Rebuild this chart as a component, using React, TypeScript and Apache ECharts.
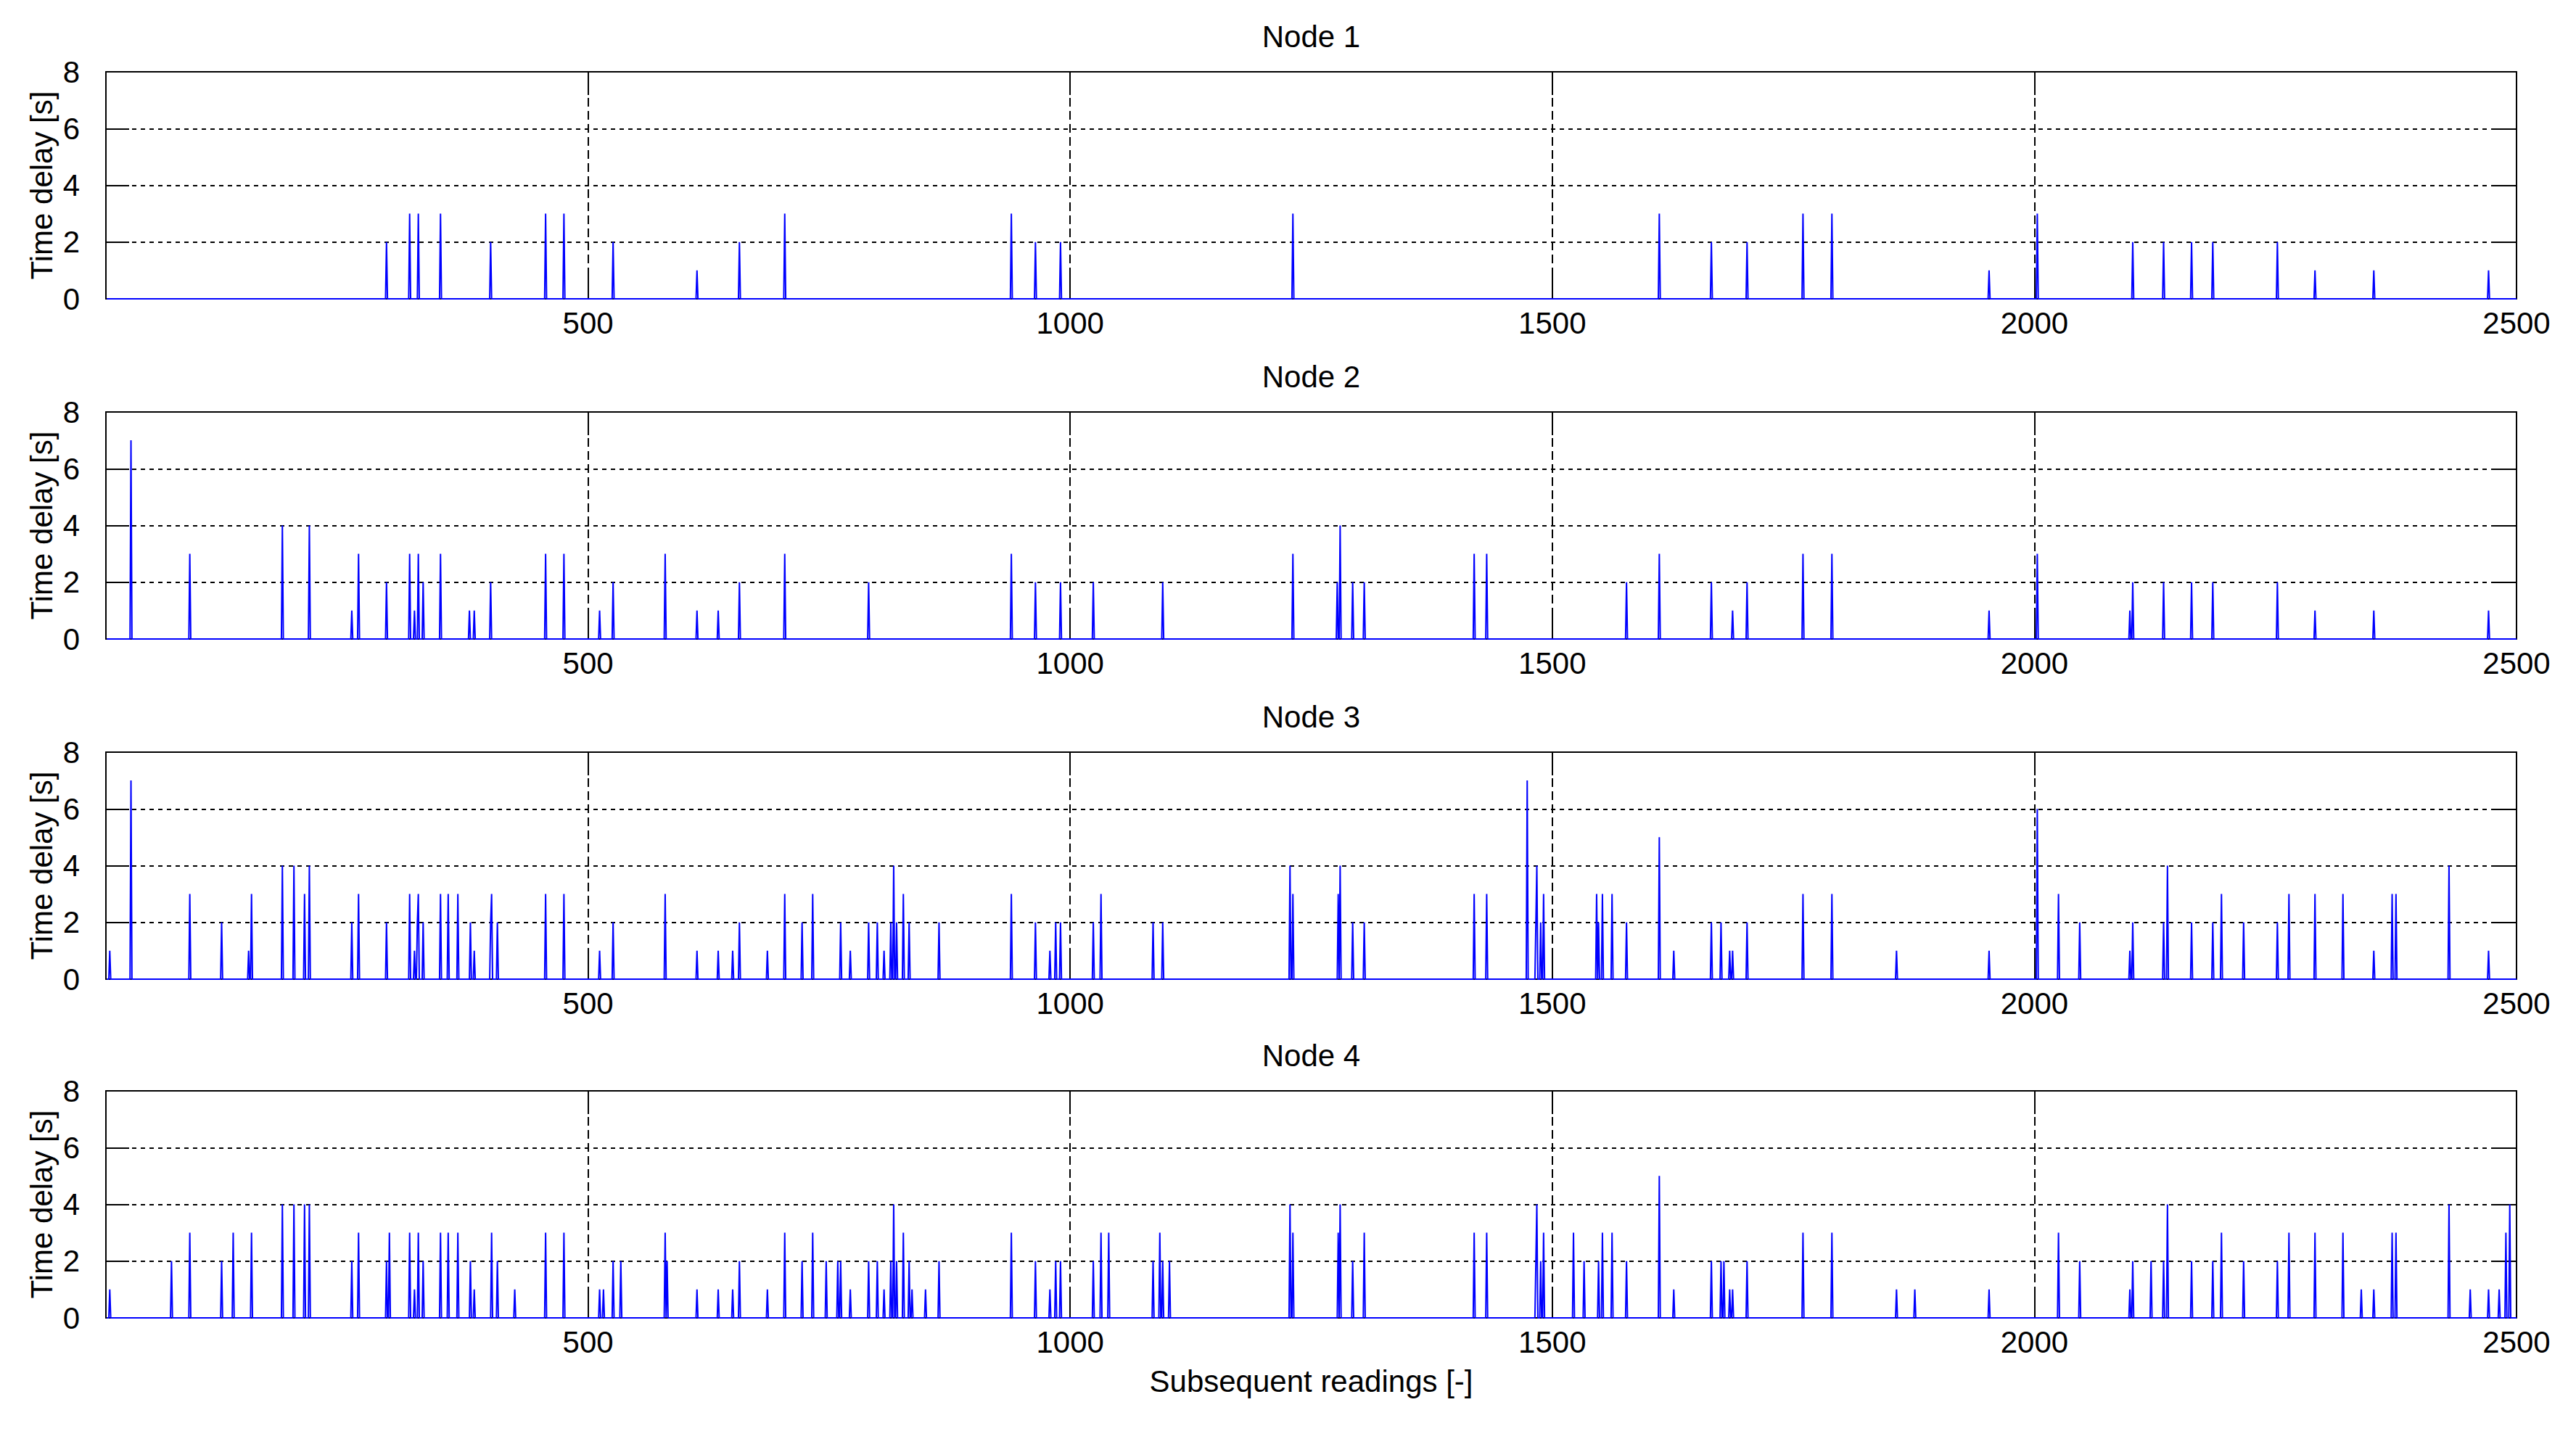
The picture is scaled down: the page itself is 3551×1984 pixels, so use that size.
import React, { useEffect, useRef } from "react";
import * as echarts from "echarts";

// Panel titles
const panelTitles = ["Node 1", "Node 2", "Node 3", "Node 4"];
const yAxisTitle = "Time delay [s]";
const xAxisTitle = "Subsequent readings [-]";
const readingsCount = 2500;

// Spikes: [reading index, time delay in s]; all other readings are 0
const node1Spikes: [number, number][] = [
  [291, 2], [315, 3], [324, 3], [347, 3], [399, 2], [456, 3], [475, 3], [526, 2], [613, 1], [657, 2],
  [704, 3], [939, 3], [964, 2], [990, 2], [1231, 3], [1611, 3], [1665, 2], [1702, 2], [1760, 3], [1790, 3],
  [1953, 1], [2003, 3], [2102, 2], [2134, 2], [2163, 2], [2185, 2], [2252, 2], [2291, 1], [2352, 1], [2471, 1],
];

const node2Spikes: [number, number][] = [
  [26, 7], [87, 3], [183, 4], [211, 4], [255, 1], [262, 3], [291, 2], [315, 3], [320, 1], [324, 3],
  [329, 2], [347, 3], [377, 1], [382, 1], [399, 2], [456, 3], [475, 3], [512, 1], [526, 2], [580, 3],
  [613, 1], [635, 1], [657, 2], [704, 3], [791, 2], [939, 3], [964, 2], [990, 2], [1024, 2], [1096, 2],
  [1231, 3], [1277, 2], [1280, 4], [1293, 2], [1305, 2], [1419, 3], [1432, 3], [1577, 2], [1611, 3], [1665, 2],
  [1687, 1], [1702, 2], [1760, 3], [1790, 3], [1953, 1], [2003, 3], [2099, 1], [2102, 2], [2134, 2], [2163, 2],
  [2185, 2], [2252, 2], [2291, 1], [2352, 1], [2471, 1],
];

const node3Spikes: [number, number][] = [
  [4, 1], [26, 7], [87, 3], [120, 2], [148, 1], [151, 3], [183, 4], [195, 4], [206, 3], [211, 4],
  [255, 2], [262, 3], [291, 2], [315, 3], [320, 1], [323, 2], [324, 3], [329, 2], [347, 3], [355, 3],
  [365, 3], [378, 2], [382, 1], [399, 2], [400, 3], [406, 2], [456, 3], [475, 3], [512, 1], [526, 2],
  [580, 3], [613, 1], [635, 1], [650, 1], [657, 2], [686, 1], [704, 3], [722, 2], [733, 3], [762, 2],
  [772, 1], [791, 2], [800, 2], [807, 1], [814, 2], [817, 4], [820, 2], [827, 3], [833, 2], [864, 2],
  [939, 3], [964, 2], [979, 1], [985, 2], [990, 2], [1024, 2], [1032, 3], [1086, 2], [1096, 2], [1228, 4],
  [1231, 3], [1278, 3], [1280, 4], [1293, 2], [1305, 2], [1419, 3], [1432, 3], [1474, 7], [1483, 2], [1484, 4],
  [1488, 2], [1491, 3], [1546, 3], [1548, 2], [1552, 3], [1562, 3], [1577, 2], [1611, 5], [1626, 1], [1665, 2],
  [1675, 2], [1684, 1], [1687, 1], [1702, 2], [1760, 3], [1790, 3], [1857, 1], [1953, 1], [2003, 6], [2025, 3],
  [2047, 2], [2099, 1], [2102, 2], [2134, 2], [2138, 4], [2163, 2], [2185, 2], [2194, 3], [2217, 2], [2252, 2],
  [2264, 3], [2291, 3], [2320, 3], [2352, 1], [2371, 3], [2375, 3], [2430, 4], [2471, 1],
];

const node4Spikes: [number, number][] = [
  [4, 1], [68, 2], [87, 3], [120, 2], [132, 3], [151, 3], [183, 4], [195, 4], [206, 4], [211, 4],
  [255, 2], [262, 3], [291, 2], [294, 3], [315, 3], [320, 1], [324, 3], [329, 2], [347, 3], [355, 3],
  [365, 3], [378, 2], [382, 1], [400, 3], [406, 2], [424, 1], [456, 3], [475, 3], [512, 1], [516, 1],
  [526, 2], [534, 2], [580, 3], [582, 2], [613, 1], [635, 1], [650, 1], [657, 2], [686, 1], [704, 3],
  [722, 2], [733, 3], [747, 2], [759, 2], [762, 2], [772, 1], [791, 2], [800, 2], [807, 1], [814, 2],
  [817, 4], [820, 2], [827, 3], [833, 2], [836, 1], [850, 1], [864, 2], [939, 3], [964, 2], [979, 1],
  [985, 2], [990, 2], [1024, 2], [1032, 3], [1040, 3], [1086, 2], [1093, 3], [1096, 2], [1103, 2], [1228, 4],
  [1231, 3], [1278, 3], [1280, 4], [1293, 2], [1305, 3], [1419, 3], [1432, 3], [1483, 2], [1484, 4], [1488, 2],
  [1491, 3], [1522, 3], [1533, 2], [1548, 2], [1552, 3], [1562, 3], [1577, 2], [1611, 5], [1626, 1], [1665, 2],
  [1675, 2], [1678, 2], [1684, 1], [1687, 1], [1702, 2], [1760, 3], [1790, 3], [1857, 1], [1876, 1], [1953, 1],
  [2025, 3], [2047, 2], [2099, 1], [2102, 2], [2121, 2], [2134, 2], [2138, 4], [2163, 2], [2185, 2], [2194, 3],
  [2217, 2], [2252, 2], [2264, 3], [2291, 3], [2320, 3], [2339, 1], [2352, 1], [2371, 3], [2375, 3], [2430, 4],
  [2452, 1], [2471, 1], [2482, 1], [2489, 3], [2493, 4],
];

const allSpikes = [node1Spikes, node2Spikes, node3Spikes, node4Spikes];

function buildSeries(spikes: [number, number][]): [number, number][] {
  const lookup = new Map<number, number>(spikes);
  const out: [number, number][] = [];
  for (let i = 1; i <= readingsCount; i++) out.push([i, lookup.get(i) ?? 0]);
  return out;
}

// layout (pixels)
const W = 3551;
const H = 1984;
const gridLeft = 146;
const gridWidth = 3323;
const gridHeight = 313;
const gridTops = [99, 568, 1037, 1504];
const FONT = '"Liberation Sans", Arial, Helvetica, sans-serif';
const FS = 42;

export default function App() {
  const ref = useRef<HTMLDivElement>(null);
  useEffect(() => {
    if (!ref.current) return;
    const chart = echarts.init(ref.current, undefined, { renderer: "svg" });

    const grid: any[] = [];
    const xAxis: any[] = [];
    const yAxis: any[] = [];
    const series: any[] = [];
    const graphic: any[] = [];

    const tickStyle = { show: true, inside: true, length: 32, lineStyle: { color: "#000", width: 2 } };
    const lineStyleAxis = { show: true, onZero: false, lineStyle: { color: "#000", width: 2 } };

    gridTops.forEach((top, i) => {
      grid.push({ left: gridLeft, top, width: gridWidth, height: gridHeight, containLabel: false });
      // bottom x axis
      xAxis.push({
        gridIndex: i, type: "value", position: "bottom", min: 0, max: readingsCount, interval: 500,
        axisLine: lineStyleAxis, axisTick: tickStyle,
        axisLabel: {
          show: true, showMinLabel: false, fontSize: FS, fontFamily: FONT, color: "#000", margin: 12,
          formatter: (v: number) => String(v),
        },
        splitLine: { show: true, lineStyle: { color: "#000", width: 2, type: [12, 6] } },
        name: i === 3 ? xAxisTitle : "", nameLocation: "middle", nameGap: 66, nameMoveOverlap: false,
        nameTextStyle: { fontSize: FS, fontFamily: FONT, color: "#000" },
      });
      // top x axis (box)
      xAxis.push({
        gridIndex: i, type: "value", position: "top", min: 0, max: readingsCount, interval: 500,
        axisLine: lineStyleAxis, axisTick: tickStyle, axisLabel: { show: false }, splitLine: { show: false },
      });
      // left y axis
      yAxis.push({
        gridIndex: i, type: "value", position: "left", min: 0, max: 8, interval: 2,
        axisLine: lineStyleAxis, axisTick: tickStyle,
        axisLabel: { show: true, fontSize: FS, fontFamily: FONT, color: "#000", margin: 36, formatter: (v: number) => String(v) },
        splitLine: { show: true, lineStyle: { color: "#000", width: 2, type: [6, 6] } },
        name: yAxisTitle, nameLocation: "middle", nameGap: 68, nameRotate: 90, nameMoveOverlap: false,
        nameTextStyle: { fontSize: FS, fontFamily: FONT, color: "#000" },
      });
      // right y axis (box)
      yAxis.push({
        gridIndex: i, type: "value", position: "right", min: 0, max: 8, interval: 2,
        axisLine: lineStyleAxis, axisTick: tickStyle, axisLabel: { show: false }, splitLine: { show: false },
      });
      series.push({
        type: "line", name: panelTitles[i], xAxisIndex: 2 * i, yAxisIndex: 2 * i,
        data: buildSeries(allSpikes[i]), showSymbol: false, symbol: "none",
        lineStyle: { color: "#0000ff", width: 2 }, itemStyle: { color: "#0000ff" }, z: 5,
      });
      graphic.push({
        type: "text", x: gridLeft + gridWidth / 2, y: top - 49,
        style: {
          text: panelTitles[i], font: `${FS}px ${FONT}`, fontSize: FS, fontFamily: FONT, fill: "#000",
          align: "center", verticalAlign: "middle", textAlign: "center", textVerticalAlign: "middle",
        },
      });
    });

    chart.setOption({
      animation: false,
      backgroundColor: "#fff",
      grid, xAxis, yAxis, series, graphic,
    });
    return () => chart.dispose();
  }, []);

  return <div ref={ref} style={{ position: "absolute", left: 0, top: 0, width: W, height: H, background: "#fff" }} />;
}
